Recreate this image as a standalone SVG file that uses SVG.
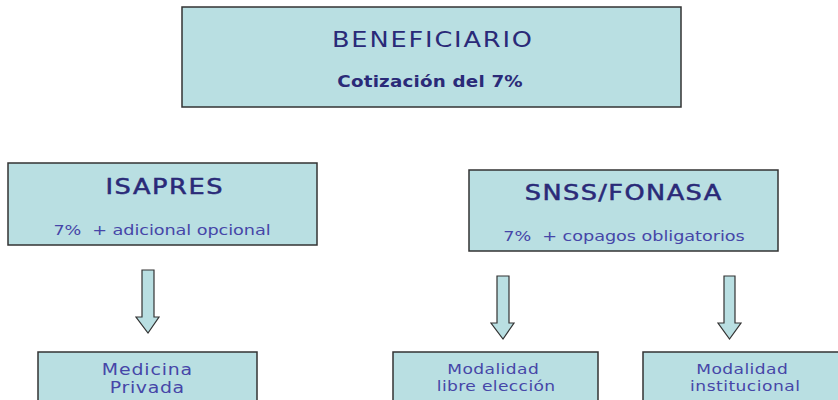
<svg xmlns="http://www.w3.org/2000/svg" width="838" height="400" viewBox="0 0 838 400">
<defs>
<style>
.box{fill:#b9dfe2;stroke:#333;stroke-width:1.5}
.arr{fill:#b9dfe2;stroke:#333;stroke-width:1.2}
.t{font-family:"DejaVu Sans",Verdana,sans-serif;fill:#2a2a78;text-anchor:middle}
.h{stroke:#2a2a78;stroke-width:0.5}
.s{font-family:"DejaVu Sans",Verdana,sans-serif;fill:#4646a8;text-anchor:middle;font-size:14.5px}
</style>
</defs>
<rect width="838" height="400" fill="#fff"/>
<g id="beneficiario">
<rect class="box" x="182" y="7" width="499" height="100"/>
<text class="t" transform="translate(432 47) scale(1.22 1)" font-size="21" textLength="164" lengthAdjust="spacing">BENEFICIARIO</text>
<text class="t" transform="translate(430 87) scale(1.22 1)" font-size="15" font-weight="bold" textLength="152" lengthAdjust="spacing">Cotización del 7%</text>
</g>
<g id="isapres">
<rect class="box" x="8" y="163" width="309" height="82"/>
<text class="t h" transform="translate(164 194) scale(1.22 1)" font-size="21" textLength="96" lengthAdjust="spacing">ISAPRES</text>
<text class="s" xml:space="preserve" transform="translate(162 235) scale(1.22 1)" textLength="178" lengthAdjust="spacing">7%  + adicional opcional</text>
</g>
<g id="fonasa">
<rect class="box" x="469" y="170" width="309" height="81"/>
<text class="t h" transform="translate(623 200) scale(1.22 1)" font-size="21" textLength="161" lengthAdjust="spacing">SNSS/FONASA</text>
<text class="s" xml:space="preserve" transform="translate(624 241) scale(1.22 1)" textLength="198" lengthAdjust="spacing">7%  + copagos obligatorios</text>
</g>
<g id="medicina">
<rect class="box" x="38" y="352" width="219" height="60"/>
<text class="s" transform="translate(147 375) scale(1.22 1)" style="font-size:15.5px" textLength="74" lengthAdjust="spacing">Medicina</text>
<text class="s" transform="translate(147 393) scale(1.22 1)" style="font-size:15.5px" textLength="61" lengthAdjust="spacing">Privada</text>
</g>
<g id="libre">
<rect class="box" x="393" y="352" width="205" height="60"/>
<text class="s" transform="translate(493 374) scale(1.22 1)" style="font-size:14px" textLength="75" lengthAdjust="spacing">Modalidad</text>
<text class="s" transform="translate(496 391) scale(1.22 1)" style="font-size:14px" textLength="97" lengthAdjust="spacing">libre elección</text>
</g>
<g id="institucional">
<rect class="box" x="643" y="352" width="205" height="60"/>
<text class="s" transform="translate(742 374) scale(1.22 1)" style="font-size:14px" textLength="75" lengthAdjust="spacing">Modalidad</text>
<text class="s" transform="translate(745 391) scale(1.22 1)" style="font-size:14px" textLength="90" lengthAdjust="spacing">institucional</text>
</g>
<g id="connectors">
<path class="arr" d="M142,270 H154 V317 H159 L148,333 L136,317 H142 Z"/>
<path class="arr" d="M497,276 H509 V323 H514 L503,339 L491,323 H497 Z"/>
<path class="arr" d="M724,276 H735 V323 H741 L729.5,339 L718,323 H724 Z"/>
</g>
</svg>
